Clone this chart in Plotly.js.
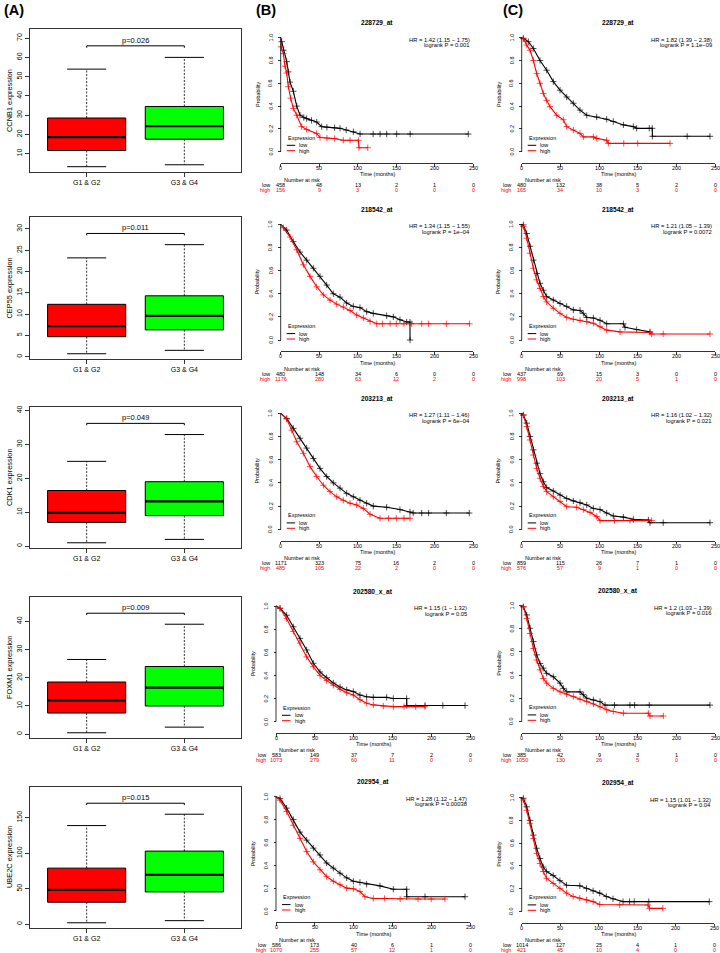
<!DOCTYPE html>
<html><head><meta charset="utf-8">
<script src="https://cdn.plot.ly/plotly-3.0.1.min.js"></script>
<style>html,body{margin:0;padding:0;background:#fff}#chart{width:720px;height:953px}</style>
</head><body><div id="chart"></div>
<script>
// ================= DATA =================
// Column A: box plots
const boxGenes = ['CCNB1', 'CEP55', 'CDK1', 'FOXM1', 'UBE2C'];
const boxGroups = ['G1 & G2', 'G3 & G4'];
const boxPvals = ['p=0.026', 'p=0.011', 'p=0.049', 'p=0.009', 'p=0.015'];
// each row: [G1 & G2, G3 & G4]
const boxLow  = [[3.2, 4.2], [0.7, 1.5], [1.0, 2.0], [0.5, 2.5], [2, 5]];
const boxQ1   = [[11.6, 17.5], [4.7, 6.3], [7.0, 9.0], [7.5, 10], [31, 45.5]];
const boxMed  = [[18.6, 24.3], [7.2, 9.6], [9.85, 13.2], [12, 16.5], [48.5, 69.7]];
const boxQ3   = [[28.5, 34.5], [12.3, 14.3], [16.4, 19.0], [18.5, 24], [79, 103]];
const boxHigh = [[53.9, 60], [23.2, 26.3], [25.0, 32.9], [26.5, 39], [139, 155]];

// Columns B and C: Kaplan-Meier curves
const kmProbes = ['228729_at', '218542_at', '203213_at', '202580_x_at', '202954_at',
                  '228729_at', '218542_at', '203213_at', '202580_x_at', '202954_at'];
const kmHR = ['HR = 1.42 (1.15 − 1.75)', 'HR = 1.34 (1.15 − 1.55)', 'HR = 1.27 (1.11 − 1.46)',
              'HR = 1.15 (1 − 1.32)', 'HR = 1.28 (1.12 − 1.47)',
              'HR = 1.82 (1.39 − 2.38)', 'HR = 1.21 (1.05 − 1.39)', 'HR = 1.16 (1.02 − 1.32)',
              'HR = 1.2 (1.03 − 1.39)', 'HR = 1.15 (1.01 − 1.32)'];
const kmLogrank = ['logrank P = 0.001', 'logrank P = 1e−04', 'logrank P = 6e−04', 'logrank P = 0.05',
                   'logrank P = 0.00038', 'logrank P = 1.1e−09', 'logrank P = 0.0072',
                   'logrank P = 0.021', 'logrank P = 0.016', 'logrank P = 0.04'];
const riskTimes = [0, 50, 100, 150, 200, 250];
const probTicks = [0, 0.2, 0.4, 0.6, 0.8, 1.0];
const riskLow  = [[458, 48, 13, 2, 1, 0], [480, 148, 34, 6, 0, 0], [1171, 323, 75, 16, 2, 0],
                  [583, 149, 37, 7, 2, 0], [586, 173, 40, 6, 1, 0],
                  [480, 132, 38, 5, 2, 0], [437, 69, 15, 3, 0, 0], [859, 115, 26, 7, 1, 0],
                  [385, 42, 9, 3, 1, 0], [1014, 127, 25, 4, 1, 0]];
const riskHigh = [[156, 9, 3, 0, 0, 0], [1176, 280, 63, 12, 2, 0], [485, 105, 22, 2, 0, 0],
                  [1073, 279, 60, 11, 0, 0], [1070, 255, 57, 12, 1, 0],
                  [165, 34, 10, 3, 0, 0], [998, 103, 20, 5, 1, 0], [576, 57, 9, 1, 0, 0],
                  [1050, 130, 26, 5, 0, 0], [421, 45, 10, 4, 0, 0]];

// time (months) / survival probability
const b1LowT = [0, 1.3, 3.5, 7.8, 9.9, 12.1, 16.4, 20.8, 25.1, 30, 33.7, 40, 46.7, 53.2, 60, 70, 77, 85, 94.3, 103, 120, 129, 137.5, 150.5, 168, 243.5];
const b1LowS = [1, 0.965, 0.89, 0.79, 0.70, 0.61, 0.53, 0.40, 0.32, 0.30, 0.29, 0.275, 0.26, 0.22, 0.215, 0.21, 0.205, 0.19, 0.175, 0.155, 0.155, 0.155, 0.155, 0.155, 0.155, 0.155];
const b1HighT = [0, 0.5, 3.5, 5.6, 7.8, 9.9, 12.9, 16.4, 20.8, 27.2, 33.7, 46.7, 51, 60, 70, 81.3, 90, 100.8, 101.6, 113];
const b1HighS = [1, 0.92, 0.86, 0.75, 0.69, 0.57, 0.47, 0.38, 0.32, 0.22, 0.195, 0.16, 0.125, 0.12, 0.115, 0.10, 0.10, 0.10, 0.035, 0.035];

const b2LowT = [0, 7.8, 16.4, 25.1, 33.7, 42.4, 51, 59.7, 68.3, 77, 85.6, 94.3, 102.9, 111.6, 120.2, 137.5, 146.2, 154.8, 163.5, 167.8, 167.9];
const b2LowS = [1, 0.95, 0.85, 0.76, 0.69, 0.62, 0.55, 0.475, 0.40, 0.37, 0.32, 0.29, 0.28, 0.245, 0.23, 0.21, 0.20, 0.175, 0.155, 0.155, 0];
const b2HighT = [0, 3.5, 12.1, 20.8, 29.4, 38.1, 46.7, 55.4, 64, 72.7, 81.3, 90, 98.6, 107.3, 115.9, 124.6, 132, 142, 150, 160, 170, 183, 192, 215, 245];
const b2HighS = [1, 0.97, 0.89, 0.78, 0.65, 0.55, 0.46, 0.39, 0.345, 0.31, 0.285, 0.255, 0.215, 0.19, 0.16, 0.14, 0.14, 0.14, 0.14, 0.14, 0.14, 0.14, 0.14, 0.14, 0.14];

const b3LowT = [0, 7.8, 16.4, 25.1, 33.7, 42.4, 51, 59.7, 68.3, 77, 85.6, 94.3, 102.9, 111.6, 120.2, 137.5, 154.8, 167.8, 172, 183, 192, 215, 244.8];
const b3LowS = [1, 0.955, 0.87, 0.785, 0.70, 0.61, 0.525, 0.455, 0.40, 0.355, 0.31, 0.28, 0.25, 0.225, 0.20, 0.19, 0.17, 0.15, 0.14, 0.14, 0.14, 0.14, 0.14];
const b3HighT = [0, 7.8, 14.3, 20.8, 29.4, 38.1, 46.7, 55.4, 64, 72.7, 81.3, 90, 98.6, 107.3, 115.9, 128.9, 140, 150, 160, 167.8];
const b3HighS = [1, 0.95, 0.855, 0.755, 0.655, 0.54, 0.455, 0.38, 0.325, 0.28, 0.25, 0.225, 0.21, 0.18, 0.13, 0.095, 0.095, 0.095, 0.095, 0.095];

const b4LowT = [0, 5.2, 13.7, 22.3, 30.9, 39.5, 48.1, 56.7, 65.3, 73.9, 82.5, 91.1, 99.7, 108.2, 116.8, 125.4, 142.6, 151.2, 168.4, 168.5, 192, 215, 243.6];
const b4LowS = [1, 0.98, 0.92, 0.82, 0.72, 0.62, 0.505, 0.43, 0.38, 0.335, 0.30, 0.275, 0.26, 0.23, 0.215, 0.21, 0.21, 0.20, 0.20, 0.14, 0.14, 0.14, 0.14];
const b4HighT = [0, 5.2, 13.7, 22.3, 30.9, 39.5, 48.1, 56.7, 65.3, 73.9, 82.5, 91.1, 99.7, 108.2, 116.8, 125.4, 138.3, 151.2, 165, 180, 192];
const b4HighS = [1, 0.98, 0.89, 0.78, 0.68, 0.56, 0.475, 0.40, 0.355, 0.315, 0.28, 0.25, 0.23, 0.19, 0.16, 0.145, 0.135, 0.13, 0.13, 0.13, 0.13];

const b5LowT = [0, 5.2, 13.7, 22.3, 30.9, 39.5, 48.1, 56.7, 65.3, 73.9, 82.5, 91.1, 99.7, 108.2, 116.8, 134, 151.2, 168.4, 168.5, 192, 243.6];
const b5LowS = [1, 0.985, 0.90, 0.80, 0.69, 0.62, 0.55, 0.49, 0.42, 0.375, 0.33, 0.29, 0.26, 0.25, 0.235, 0.22, 0.19, 0.19, 0.125, 0.125, 0.125];
const b5HighT = [0, 5.2, 13.7, 22.3, 30.9, 39.5, 48.1, 56.7, 65.3, 73.9, 82.5, 91.1, 99.7, 108.2, 114.7, 125.4, 140, 160, 183, 200, 217.8];
const b5HighS = [1, 0.97, 0.87, 0.75, 0.635, 0.52, 0.43, 0.36, 0.30, 0.26, 0.23, 0.20, 0.195, 0.17, 0.125, 0.11, 0.11, 0.105, 0.105, 0.105, 0.105];

const c1LowT = [0, 2.2, 8.6, 15.1, 23.7, 32.3, 40.9, 49.6, 58.2, 66.8, 75.4, 84.1, 97, 109.9, 118.5, 131.5, 144.4, 148.7, 165, 168.8, 169, 214, 243.5];
const c1LowS = [1, 0.995, 0.965, 0.905, 0.80, 0.715, 0.615, 0.54, 0.48, 0.425, 0.365, 0.32, 0.305, 0.285, 0.265, 0.235, 0.22, 0.205, 0.205, 0.205, 0.135, 0.135, 0.135];
const c1HighT = [0, 2.2, 6.5, 10.8, 15.1, 19.4, 23.7, 28, 32.3, 36.6, 45.3, 53.9, 58.2, 66.8, 75.4, 79.7, 92.7, 97, 109.9, 112.1, 132, 150, 191.8];
const c1HighS = [1, 0.99, 0.935, 0.89, 0.80, 0.685, 0.60, 0.51, 0.45, 0.395, 0.32, 0.28, 0.22, 0.19, 0.16, 0.13, 0.13, 0.117, 0.10, 0.073, 0.073, 0.073, 0.073];

const c2LowT = [0, 2.2, 6.5, 10.8, 15.1, 19.4, 23.7, 28, 32.3, 40.9, 49.6, 58.2, 66.8, 75.4, 79.7, 84.1, 92.7, 101.3, 109.9, 131.5, 133.6, 148.7, 165.9];
const c2LowS = [1, 0.995, 0.92, 0.81, 0.69, 0.575, 0.49, 0.43, 0.375, 0.345, 0.315, 0.29, 0.26, 0.255, 0.23, 0.195, 0.19, 0.17, 0.14, 0.14, 0.11, 0.09, 0.07];
const c2HighT = [0, 2.2, 6.5, 10.8, 15.1, 19.4, 23.7, 28, 32.3, 40.9, 49.6, 58.2, 66.8, 75.4, 84.1, 92.7, 101.3, 109.9, 127.2, 165.9, 168.1, 183, 243.5];
const c2HighS = [1, 0.98, 0.88, 0.75, 0.62, 0.52, 0.445, 0.375, 0.33, 0.275, 0.23, 0.195, 0.18, 0.17, 0.16, 0.145, 0.115, 0.085, 0.07, 0.065, 0.052, 0.052, 0.052];

const c3LowT = [0, 2.2, 6.5, 10.8, 15.1, 19.4, 23.7, 28, 32.3, 40.9, 49.6, 58.2, 66.8, 75.4, 84.1, 92.7, 101.3, 109.9, 118.5, 131.5, 144.4, 163.8, 165.9, 183, 243.5];
const c3LowS = [1, 0.985, 0.915, 0.80, 0.685, 0.57, 0.48, 0.41, 0.36, 0.33, 0.295, 0.265, 0.245, 0.23, 0.21, 0.18, 0.17, 0.14, 0.115, 0.105, 0.086, 0.08, 0.057, 0.057, 0.057];
const c3HighT = [0, 2.2, 6.5, 10.8, 15.1, 19.4, 23.7, 28, 32.3, 40.9, 49.6, 58.2, 71.1, 79.7, 88.4, 97, 101.3, 120, 140, 168.1];
const c3HighS = [1, 0.985, 0.885, 0.77, 0.64, 0.525, 0.44, 0.37, 0.325, 0.28, 0.24, 0.195, 0.19, 0.17, 0.145, 0.11, 0.075, 0.075, 0.075, 0.075];

const c4LowT = [0, 2.2, 6.5, 10.8, 15.1, 19.4, 23.7, 28, 32.3, 40.9, 49.6, 53.9, 58.2, 75.4, 79.7, 84.1, 92.7, 101.3, 107.8, 120, 140, 146, 165, 243.5];
const c4LowS = [1, 0.99, 0.92, 0.805, 0.69, 0.575, 0.50, 0.46, 0.415, 0.385, 0.33, 0.285, 0.255, 0.255, 0.23, 0.20, 0.185, 0.17, 0.14, 0.14, 0.14, 0.14, 0.14, 0.14];
const c4HighT = [0, 2.2, 6.5, 10.8, 15.1, 19.4, 23.7, 28, 32.3, 40.9, 49.6, 58.2, 66.8, 75.4, 84.1, 92.7, 101.3, 109.9, 118.5, 131.5, 163.8, 165.9, 183.2];
const c4HighS = [1, 0.99, 0.89, 0.76, 0.63, 0.53, 0.445, 0.37, 0.33, 0.285, 0.255, 0.235, 0.215, 0.19, 0.17, 0.15, 0.125, 0.10, 0.085, 0.07, 0.07, 0.046, 0.046];

const c5LowT = [0, 2.2, 6.5, 10.8, 15.1, 19.4, 23.7, 28, 32.3, 40.9, 49.6, 58.2, 75.4, 84.1, 92.7, 101.3, 109.9, 118.5, 131.5, 140, 146, 165, 243.5];
const c5LowS = [1, 0.995, 0.92, 0.80, 0.67, 0.555, 0.465, 0.39, 0.35, 0.315, 0.27, 0.23, 0.225, 0.20, 0.18, 0.16, 0.13, 0.11, 0.085, 0.085, 0.085, 0.085, 0.085];
const c5HighT = [0, 2.2, 6.5, 10.8, 15.1, 19.4, 23.7, 28, 32.3, 40.9, 49.6, 58.2, 66.8, 75.4, 84.1, 92.7, 101.3, 127.2, 163.8, 165.9, 183.2];
const c5HighS = [1, 0.98, 0.89, 0.775, 0.64, 0.51, 0.42, 0.35, 0.29, 0.245, 0.20, 0.16, 0.13, 0.115, 0.10, 0.085, 0.06, 0.056, 0.056, 0.026, 0.026];

const kmLow = [[b1LowT, b1LowS], [b2LowT, b2LowS], [b3LowT, b3LowS], [b4LowT, b4LowS], [b5LowT, b5LowS],
               [c1LowT, c1LowS], [c2LowT, c2LowS], [c3LowT, c3LowS], [c4LowT, c4LowS], [c5LowT, c5LowS]];
const kmHigh = [[b1HighT, b1HighS], [b2HighT, b2HighS], [b3HighT, b3HighS], [b4HighT, b4HighS], [b5HighT, b5HighS],
                [c1HighT, c1HighS], [c2HighT, c2HighS], [c3HighT, c3HighS], [c4HighT, c4HighS], [c5HighT, c5HighS]];

// ================= LAYOUT / DRAWING =================
const W = 720, H = 953;
const FONT = '"Liberation Sans", Arial, Helvetica, sans-serif';
const PX = p => p / W;
const PY = p => 1 - p / H;
const RED = '#FF0000', GREEN = '#00FF00', BLACK = '#000000';

const layout = {
  width: W, height: H, autosize: false,
  margin: {l: 0, r: 0, t: 0, b: 0, pad: 0},
  paper_bgcolor: '#ffffff', plot_bgcolor: 'rgba(0,0,0,0)',
  showlegend: false, boxmode: 'overlay',
  font: {family: FONT, color: BLACK, size: 7},
  annotations: [], shapes: []
};
const traces = [];
const axName = n => (n === 1 ? '' : String(n));
const f = (size, color) => ({family: FONT, size: size, color: color || BLACK});

function addText(text, x, y, opts) {
  layout.annotations.push(Object.assign({
    text: text, x: x, y: y, xref: 'paper', yref: 'paper', showarrow: false,
    xanchor: 'center', yanchor: 'middle', font: f(7)
  }, opts || {}));
}

// ---- Column A: box plots ----
const boxFrames = [[29, 172], [217, 359], [407, 548], [597, 738], [787, 928]];
const boxDtick = [10, 5, 10, 10, 50];
const boxLeft = 30, boxRight = 241;
const boxFill = [RED, GREEN];

boxGenes.forEach((gene, i) => {
  const n = i + 1, xr = 'x' + axName(n), yr = 'y' + axName(n);
  const [top, bot] = boxFrames[i];
  // R-like limits: [min whisker, 1.2 * max whisker], expanded by 4%
  const maxW = Math.max(...boxHigh[i]), minW = Math.min(...boxLow[i]);
  const lo = minW, hi = 1.2 * maxW, ex = 0.04 * (hi - lo);
  const yRange = [lo - ex, hi + ex];
  const pLine = 1.1 * maxW;
  layout['xaxis' + axName(n)] = {
    domain: [PX(boxLeft), PX(boxRight)], anchor: yr, range: [0.42, 2.58],
    tickmode: 'array', tickvals: [1, 2], ticktext: boxGroups,
    ticks: 'outside', ticklen: 4, tickwidth: 0.8, tickcolor: BLACK,
    showline: true, mirror: true, linecolor: '#333', linewidth: 1,
    showgrid: false, zeroline: false, tickfont: f(7), fixedrange: true
  };
  layout['yaxis' + axName(n)] = {
    domain: [PY(bot), PY(top)], anchor: xr, range: yRange,
    tick0: 0, dtick: boxDtick[i], ticks: 'outside', ticklen: 4, tickwidth: 0.8, tickcolor: BLACK,
    tickangle: -90, showline: true, mirror: true, linecolor: '#333', linewidth: 1,
    showgrid: false, zeroline: false, tickfont: f(7), fixedrange: true
  };
  const wx = [], wy = [], sx = [], sy = [], mx = [], my = [];
  boxGroups.forEach((grp, j) => {
    const pos = j + 1;
    traces.push({
      type: 'box', x: [pos], q1: [boxQ1[i][j]], median: [boxMed[i][j]], q3: [boxQ3[i][j]],
      width: 0.8, fillcolor: boxFill[j], line: {color: BLACK, width: 1}, whiskerwidth: 0,
      boxpoints: false, xaxis: xr, yaxis: yr, hoverinfo: 'skip'
    });
    wx.push(pos, pos, null, pos, pos, null);
    wy.push(boxQ3[i][j], boxHigh[i][j], null, boxQ1[i][j], boxLow[i][j], null);
    sx.push(pos - 0.2, pos + 0.2, null, pos - 0.2, pos + 0.2, null);
    sy.push(boxHigh[i][j], boxHigh[i][j], null, boxLow[i][j], boxLow[i][j], null);
    mx.push(pos - 0.4, pos + 0.4, null);
    my.push(boxMed[i][j], boxMed[i][j], null);
  });
  traces.push({type: 'scatter', mode: 'lines', x: wx, y: wy, xaxis: xr, yaxis: yr,
    line: {color: BLACK, width: 0.8, dash: '2px,1.5px'}, hoverinfo: 'skip'});
  traces.push({type: 'scatter', mode: 'lines', x: sx, y: sy, xaxis: xr, yaxis: yr,
    line: {color: BLACK, width: 1}, hoverinfo: 'skip'});
  traces.push({type: 'scatter', mode: 'lines', x: mx, y: my, xaxis: xr, yaxis: yr,
    line: {color: BLACK, width: 2.2}, hoverinfo: 'skip'});
  const d = (yRange[1] - yRange[0]) * 0.013;
  traces.push({type: 'scatter', mode: 'lines', x: [1, 1, 2, 2],
    y: [pLine - d, pLine, pLine, pLine - d],
    xaxis: xr, yaxis: yr, line: {color: BLACK, width: 1}, hoverinfo: 'skip'});
  layout.annotations.push({text: boxPvals[i], x: 1.5, y: pLine, xref: xr, yref: yr,
    showarrow: false, xanchor: 'center', yanchor: 'bottom', yshift: -1, font: f(7.5)});
  addText(gene + ' expression', PX(9.5), PY((top + bot) / 2), {textangle: -90, font: f(7.4)});
});

// ---- Columns B and C: KM plots ----
const kmGeo = [
  [280.7, 473.3, 37.7, 151.7], [280.7, 473.3, 224.3, 340], [280.7, 473.3, 413.3, 529.3],
  [276, 470, 606, 721.7], [276, 470, 796.7, 911],
  [521.7, 715, 37.7, 151.7], [521.7, 715, 224.3, 340], [521.7, 715, 413.3, 529.3],
  [521.7, 715, 605.7, 721.3], [521.7, 714.3, 797.7, 911.3]
];
const KMF = 5.5;

kmProbes.forEach((probe, k) => {
  const n = 6 + k, xr = 'x' + axName(n), yr = 'y' + axName(n);
  const [x0, x1, y1, y0] = kmGeo[k];
  const ph = y0 - y1;
  const domTop = y1 - 0.04 * ph, domBot = y0 + 0.04 * ph;
  const axisLineY = y0 + 11.5;
  layout['xaxis' + axName(n)] = {
    domain: [PX(x0), PX(x1)], anchor: 'free', position: PY(axisLineY), range: [0, 250],
    tickmode: 'array', tickvals: riskTimes, ticks: 'outside', ticklen: 2.5, tickwidth: 0.8, tickcolor: BLACK,
    showticklabels: false,
    showline: true, linecolor: BLACK, linewidth: 0.8, showgrid: false, zeroline: false, fixedrange: true
  };
  layout['yaxis' + axName(n)] = {
    domain: [PY(domBot), PY(domTop)], anchor: 'free', position: PX(x0), range: [-0.04, 1.04],
    tickmode: 'array', tickvals: probTicks, showticklabels: false,
    ticks: 'outside', ticklen: 2.5, tickwidth: 0.8, tickcolor: BLACK,
    showline: false, showgrid: false, zeroline: false, fixedrange: true
  };
  // y axis line only over 0..1 (R style)
  layout.shapes.push({type: 'line', xref: 'paper', yref: 'paper', x0: PX(x0), x1: PX(x0), y0: PY(y0), y1: PY(y1),
    line: {color: BLACK, width: 0.8}});

  riskTimes.forEach(tm => {
    layout.annotations.push({text: String(tm), x: tm, y: PY(y0 + 16.3), xref: xr, yref: 'paper',
      showarrow: false, xanchor: 'center', yanchor: 'middle', font: f(KMF)});
  });
  probTicks.forEach(p => {
    layout.annotations.push({text: p.toFixed(1), x: PX(x0 - 10), y: p, xref: 'paper', yref: yr,
      showarrow: false, xanchor: 'center', yanchor: 'middle', textangle: -90, font: f(KMF)});
  });

  [[kmLow[k], BLACK], [kmHigh[k], RED]].forEach(([curve, col]) => {
    const [t, s] = curve;
    traces.push({
      type: 'scatter', mode: 'lines+markers', x: t, y: s, xaxis: xr, yaxis: yr,
      line: {color: col, width: 1.1}, cliponaxis: false,
      marker: {symbol: 'cross-thin-open', size: t.map(v => (v === 0 ? 0 : 4.5)), color: col, line: {color: col, width: 1}},
      hoverinfo: 'skip'
    });
  });

  const cx = (x0 + x1) / 2;
  addText('<b>' + probe + '</b>', PX(cx), PY(y1 - 15), {font: f(6.6)});
  addText(kmHR[k], PX(x1 - 1.5), PY(y1 + 2), {xanchor: 'right', font: f(5.8)});
  addText(kmLogrank[k], PX(x1 - 1.5), PY(y1 + 7.5), {xanchor: 'right', font: f(5.8)});
  addText('Expression', PX(x0 + 5), PY(y0 - 14), {xanchor: 'left', font: f(KMF)});
  [['low', BLACK, 6.4], ['high', RED, 1]].forEach(([lab, col, off]) => {
    layout.shapes.push({type: 'line', xref: 'paper', yref: 'paper', x0: PX(x0 + 6), x1: PX(x0 + 14.5),
      y0: PY(y0 - off), y1: PY(y0 - off), line: {color: col, width: 1}});
    addText(lab, PX(x0 + 16.5), PY(y0 - off), {xanchor: 'left', font: f(KMF)});
  });
  addText('Probability', PX(x0 - 23.5), PY((y0 + y1) / 2), {textangle: -90, font: f(5.4)});
  addText('Time (months)', PX(cx), PY(y0 + 22.6), {font: f(KMF)});
  addText('Number at risk', PX(x0 + 1), PY(y0 + 28.6), {xanchor: 'left', font: f(KMF)});
  addText('low', PX(x0 - 8.5), PY(y0 + 33.6), {xanchor: 'right', font: f(KMF)});
  addText('high', PX(x0 - 8.5), PY(y0 + 38.6), {xanchor: 'right', font: f(KMF, RED)});
  riskTimes.forEach((tm, m) => {
    layout.annotations.push({text: String(riskLow[k][m]), x: tm, y: PY(y0 + 33.6), xref: xr, yref: 'paper',
      showarrow: false, xanchor: 'center', yanchor: 'middle', font: f(KMF)});
    layout.annotations.push({text: String(riskHigh[k][m]), x: tm, y: PY(y0 + 38.6), xref: xr, yref: 'paper',
      showarrow: false, xanchor: 'center', yanchor: 'middle', font: f(KMF, RED)});
  });
});

addText('<b>(A)</b>', PX(2), PY(9.5), {xanchor: 'left', font: f(14.5)});
addText('<b>(B)</b>', PX(254), PY(9.5), {xanchor: 'left', font: f(14.5)});
addText('<b>(C)</b>', PX(501), PY(9.5), {xanchor: 'left', font: f(14.5)});

Plotly.newPlot('chart', traces, layout, {staticPlot: true, displayModeBar: false});
</script></body></html>
